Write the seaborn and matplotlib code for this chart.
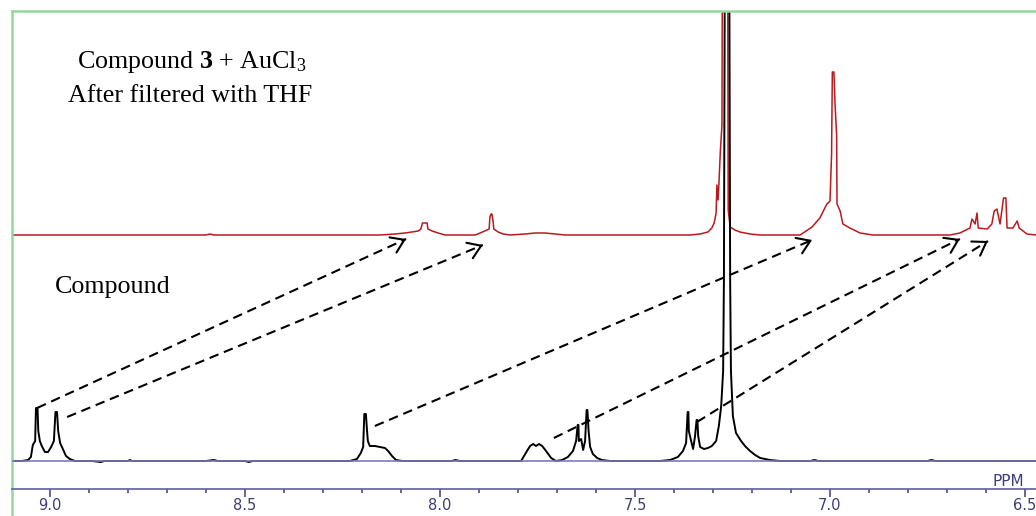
import numpy as np
import pandas as pd
import matplotlib
matplotlib.use("Agg")
import matplotlib.pyplot as plt
from matplotlib.ticker import MultipleLocator
import seaborn as sns

# Lower trace: free compound (chemical shift in ppm, intensity)
compound_ppm = [9.097, 9.072, 9.056, 9.049, 9.044, 9.038, 9.036, 9.032, 9.030, 9.026,
                9.021, 9.013, 9.005, 8.997, 8.990, 8.986, 8.982, 8.979, 8.974, 8.967,
                8.959, 8.949, 8.936, 8.892, 8.870, 8.860, 8.800, 8.795, 8.790, 8.600,
                8.580, 8.570, 8.500, 8.490, 8.480, 8.231, 8.213, 8.203, 8.197, 8.194,
                8.190, 8.187, 8.185, 8.180, 8.167, 8.154, 8.141, 8.133, 8.123, 8.113,
                8.097, 7.970, 7.960, 7.950, 7.792, 7.777, 7.769, 7.761, 7.754, 7.746,
                7.738, 7.728, 7.715, 7.703, 7.687, 7.672, 7.659, 7.651, 7.647, 7.645,
                7.644, 7.638, 7.633, 7.628, 7.624, 7.622, 7.619, 7.615, 7.608, 7.597,
                7.585, 7.564, 7.436, 7.410, 7.390, 7.377, 7.369, 7.365, 7.363, 7.362,
                7.356, 7.351, 7.346, 7.342, 7.340, 7.338, 7.333, 7.323, 7.313, 7.303,
                7.292, 7.285, 7.279, 7.274, 7.272, 7.269, 7.259, 7.256, 7.254, 7.249,
                7.241, 7.228, 7.218, 7.205, 7.192, 7.179, 7.154, 7.128, 7.050, 7.040,
                7.030, 6.750, 6.740, 6.730, 6.472]
compound_int = [0, 0, 1, 4, 16, 20, 53, 53, 30, 20,
                15, 9, 9, 14, 20, 49, 49, 30, 18, 12,
                5, 2, 0, 0, -1, 0, 0, 1, 0, 0,
                1, 0, 0, -1, 0, 0, 2, 8, 14, 47,
                47, 30, 20, 15, 15, 14, 13, 10, 5, 1,
                0, 0, 1, 0, 0, 10, 15, 17, 15, 17,
                15, 10, 3, 0, 1, 4, 10, 20, 36, 36,
                20, 22, 11, 20, 51, 51, 30, 14, 7, 3,
                1, 0, 0, 1, 4, 10, 18, 49, 49, 30,
                20, 12, 25, 41, 41, 25, 14, 12, 13, 15,
                20, 35, 55, 90, 180, 600, 600, 180, 90, 45,
                28, 20, 15, 10, 6, 3, 1, 0, 0, 1,
                0, 0, 1, 0, 0]

# Upper trace: compound 3 + AuCl3 after filtration with THF
complex_ppm = [9.097, 8.600, 8.590, 8.580, 8.154, 8.115, 8.090, 8.072, 8.056, 8.049,
               8.045, 8.033, 8.031, 8.020, 8.005, 7.987, 7.910, 7.897, 7.885, 7.874,
               7.872, 7.869, 7.867, 7.864, 7.862, 7.851, 7.838, 7.820, 7.782, 7.756,
               7.731, 7.705, 7.679, 7.359, 7.333, 7.313, 7.303, 7.297, 7.292, 7.290,
               7.287, 7.285, 7.281, 7.277, 7.274, 7.264, 7.261, 7.256, 7.244, 7.231,
               7.205, 7.179, 7.077, 7.069, 7.046, 7.026, 7.008, 7.000, 6.996, 6.994,
               6.990, 6.987, 6.983, 6.982, 6.974, 6.967, 6.949, 6.923, 6.890, 6.692,
               6.667, 6.641, 6.636, 6.628, 6.623, 6.620, 6.597, 6.585, 6.579, 6.572,
               6.564, 6.555, 6.549, 6.546, 6.531, 6.520, 6.515, 6.495, 6.472]
complex_int = [0, 0, 1, 0, 0, 1, 2, 3, 4, 6,
               12, 12, 6, 4, 2, 0, 0, 2, 4, 6,
               18, 21, 21, 14, 6, 3, 1, 0, 1, 2,
               2, 1, 0, 0, 1, 3, 7, 12, 22, 50,
               35, 50, 85, 110, 600, 600, 25, 8, 5, 3,
               1, 0, 0, 2, 8, 17, 31, 34, 80, 163,
               163, 130, 100, 31, 24, 11, 7, 2, 0, 0,
               2, 7, 16, 11, 22, 7, 6, 11, 24, 26,
               11, 37, 37, 7, 7, 14, 7, 1, 0]
complex_offset = 226

# Peak correspondences: lower-trace signal -> shifted signal in the upper trace
link_from_ppm = [9.033, 8.956, 8.167, 7.708, 7.341]
link_from_int = [53, 44, 35, 23, 39]
link_to_ppm = [8.087, 7.890, 7.046, 6.667, 6.595]
link_to_int = [222, 216, 221, 222, 220]

major_ticks = [9.0, 8.5, 8.0, 7.5, 7.0, 6.5]
tick_labels = ["9.0", "8.5", "8.0", "7.5", "7.0", "6.5"]

sns.set_style("white")
plt.rcParams["mathtext.fontset"] = "custom"
plt.rcParams["mathtext.rm"] = "Liberation Serif"
plt.rcParams["mathtext.bf"] = "Liberation Serif:bold"
plt.rcParams["mathtext.it"] = "Liberation Serif:italic"

W, H = 1036, 516
fig = plt.figure(figsize=(W / 100, H / 100), dpi=100)
fig.patch.set_facecolor("white")
ax = fig.add_axes([12 / W, 0, 1 - 12 / W, (H - 11) / H])
ax.set_facecolor("white")
ax.set_xlim(9.0974, 6.4718)
ax.set_ylim(-55, 450)

frame_green = "#93d99c"
axis_blue = "#5d5d9e"
label_blue = "#3d3d78"

upper = pd.DataFrame({"ppm": complex_ppm,
                      "intensity": np.array(complex_int) + complex_offset})
lower = pd.DataFrame({"ppm": compound_ppm, "intensity": compound_int})
sns.lineplot(data=upper, x="ppm", y="intensity", ax=ax, color="#b81a1e",
             lw=1.1, estimator=None, sort=False, zorder=2)
sns.lineplot(data=lower, x="ppm", y="intensity", ax=ax, color="black",
             lw=1.4, estimator=None, sort=False, zorder=2.5)

# baseline of the lower spectrum, drawn over the flat parts of the trace
ax.axhline(0, color="#7c7cbc", lw=1.2, zorder=2.6)

# dashed correspondence arrows with solid open heads
for x0, y0, x1, y1 in zip(link_from_ppm, link_from_int, link_to_ppm, link_to_int):
    ax.plot([x0, x1], [y0, y1], color="black", lw=1.5,
            dashes=(4.6, 2.8), zorder=3, solid_capstyle="butt")
    p0 = ax.transData.transform((x0, y0))
    p1 = ax.transData.transform((x1, y1))
    u = (p1 - p0) / np.hypot(*(p1 - p0))
    ax.annotate("", xy=(x1, y1), xytext=(-u[0] * 2, -u[1] * 2),
                textcoords="offset points",
                arrowprops=dict(arrowstyle="->,head_length=0.45,head_width=0.3",
                                lw=1.5, color="black", shrinkA=0, shrinkB=0,
                                mutation_scale=20),
                zorder=3)

# frame and ppm scale
ax.spines["right"].set_visible(False)
for side in ("left", "top"):
    ax.spines[side].set_color(frame_green)
    ax.spines[side].set_linewidth(1.8)
ax.spines["bottom"].set_position(("data", -28))
ax.spines["bottom"].set_color(axis_blue)
ax.spines["bottom"].set_linewidth(1.2)

ax.set_xticks(major_ticks, tick_labels)
ax.xaxis.set_minor_locator(MultipleLocator(0.1))
ax.tick_params(axis="x", which="major", bottom=True, direction="out", length=6,
               width=1.1, color=label_blue, labelcolor=label_blue,
               labelsize=10.5, pad=0.5)
ax.tick_params(axis="x", which="minor", bottom=True, direction="out", length=3,
               width=1.1, color=label_blue)
ax.set_yticks([])
ax.set_xlabel("")
ax.set_ylabel("")

serif = "Liberation Serif"
fig.text(192 / W, 1 - 68 / H, r"Compound $\mathbf{3}$ + AuCl$_3$",
         ha="center", va="baseline", family=serif, size=18.7, color="black")
fig.text(190.5 / W, 1 - 102 / H, "After filtered with THF",
         ha="center", va="baseline", family=serif, size=18.7, color="black")
fig.text(55 / W, 1 - 293 / H, "Compound",
         ha="left", va="baseline", family=serif, size=18.7, color="black")
fig.text(993 / W, 1 - 486 / H, "PPM", ha="left", va="baseline",
         color=label_blue, size=11)

fig.savefig("out.png", dpi=100)
